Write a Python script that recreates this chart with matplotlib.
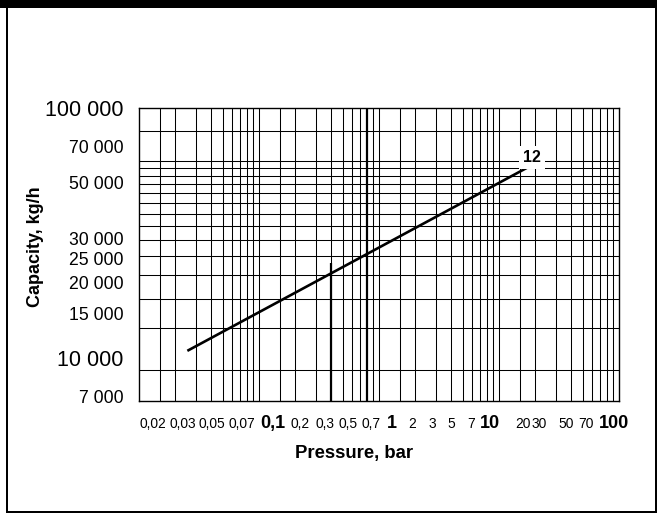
import matplotlib
matplotlib.use("Agg")
import matplotlib.pyplot as plt
from matplotlib.patches import Rectangle
from matplotlib.ticker import NullLocator, FixedLocator, FixedFormatter

plt.rcParams['font.family'] = ['Liberation Sans', 'DejaVu Sans']

# ---------------- data ----------------
# capacity line "12" (pressure bar -> capacity kg/h)
line_pressure = [0.0253, 17.5]
line_capacity = [10640, 57750]
line_label = "12"

# y tick labels
ytick_values = [100000, 70000, 50000, 30000, 25000, 20000, 15000, 10000, 7000]
ytick_labels = ["100 000", "70 000", "50 000", "30 000", "25 000", "20 000",
                "15 000", "10 000", "7 000"]
ytick_big = ["100 000", "10 000"]

# x tick labels (printed as a row under the chart)
xtick_labels = ["0,02", "0,03", "0,05", "0,07", "0,1", "0,2", "0,3", "0,5", "0,7",
                "1", "2", "3", "5", "7", "10", "20", "30", "50", "70", "100"]
xtick_big = ["0,1", "1", "10", "100"]

# horizontal grid lines of the printed chart (capacity values)
hgrid_values = [81000, 61400, 57400, 53500, 49700, 45500, 41600, 37600,
                33500, 29500, 25500, 21400, 17200, 13100, 8930]

# vertical grid: log grid of pressure
vgrid_decades = [0.01, 0.1, 1, 10]
vgrid_mults = [1.5, 2, 3, 4, 5, 6, 7, 8, 9, 10]
heavy_vlines = [0.8]           # printed heavier full height
heavy_partial = (0.4, 24000)   # heavier below this capacity

x_limits = (0.01, 100)
y_limits = (6720, 100000)

# ---------------- layout ----------------
W, H = 657, 520
fig = plt.figure(figsize=(W / 100, H / 100), dpi=100)
fig.patch.set_facecolor('white')

def fx(px):
    return px / W

def fy(py):
    return 1 - py / H

ax_l, ax_r, ax_t, ax_b = 139, 618.7, 107.7, 400.7
ax = fig.add_axes([fx(ax_l), fy(ax_b), (ax_r - ax_l) / W, (ax_b - ax_t) / H])
ax.set_xscale('log')
ax.set_yscale('log')
ax.set_xlim(*x_limits)
ax.set_ylim(*y_limits)

thin = 0.75
heavy = 1.6
for d in vgrid_decades:
    for m in vgrid_mults:
        v = d * m
        if x_limits[0] < v < x_limits[1]:
            lw = heavy if any(abs(v - h) < 1e-9 for h in heavy_vlines) else thin
            ax.axvline(v, color='black', lw=lw, zorder=1)
for hv in hgrid_values:
    ax.axhline(hv, color='black', lw=thin, zorder=1)
ax.plot([heavy_partial[0]] * 2, [y_limits[0], heavy_partial[1]],
        color='black', lw=heavy, zorder=1, solid_capstyle='butt')

for s in ax.spines.values():
    s.set_linewidth(1.0)
    s.set_color('black')

# data line
ax.plot(line_pressure, line_capacity, color='black', lw=1.9, zorder=3,
        solid_capstyle='butt')
ax.annotate(line_label, xy=(line_pressure[-1], line_capacity[-1]),
            xytext=(2.7, 7.1), textcoords='offset points',
            ha='center', va='center', fontsize=11.5, fontweight='bold',
            bbox=dict(boxstyle='square,pad=0.25', fc='white', ec='none'),
            zorder=4)

# y ticks
ax.yaxis.set_major_locator(FixedLocator(ytick_values))
ax.yaxis.set_major_formatter(FixedFormatter(ytick_labels))
ax.yaxis.set_minor_locator(NullLocator())
ax.tick_params(axis='y', which='both', length=0, pad=11)
for t, lab in zip(ax.get_yticklabels(), ytick_labels):
    t.set_fontsize(15.5 if lab in ytick_big else 12.7)

# x ticks: hidden, labels printed as a row of text
ax.xaxis.set_major_locator(NullLocator())
ax.xaxis.set_minor_locator(NullLocator())
ax.tick_params(axis='x', which='both', length=0, labelbottom=False)

xlabel_centers_px = [153, 182.7, 212, 242, 273, 300, 324.5, 348, 371, 392,
                     412, 432, 451.5, 471, 490, 523, 539, 566, 585.5, 613.5]
for lab, cx in zip(xtick_labels, xlabel_centers_px):
    big = lab in xtick_big
    fig.text(fx(cx), fy(428), lab, ha='center', va='baseline',
             fontsize=13 if big else 9.9, fontweight='bold' if big else 'normal')

fig.text(fx(354.5), fy(458), "Pressure, bar", ha='center', va='baseline',
         fontsize=13.3, fontweight='bold')
fig.text(fx(35), fy(246.7), "Capacity, kg/h", ha='center', va='center',
         rotation=90, fontsize=13, fontweight='bold')

# frame of the printed figure
frame = [
    (0, 0, W, 8),        # header bar
    (6, 0, 2, 513),      # left
    (655, 0, 2, 513),    # right
    (6, 511, 651, 2),    # bottom
]
for x0, y0, w, h in frame:
    fig.patches.append(Rectangle((fx(x0), fy(y0 + h)), w / W, h / H,
                                 transform=fig.transFigure, fc='black',
                                 ec='none', zorder=10))

fig.savefig("out.png", dpi=100)
